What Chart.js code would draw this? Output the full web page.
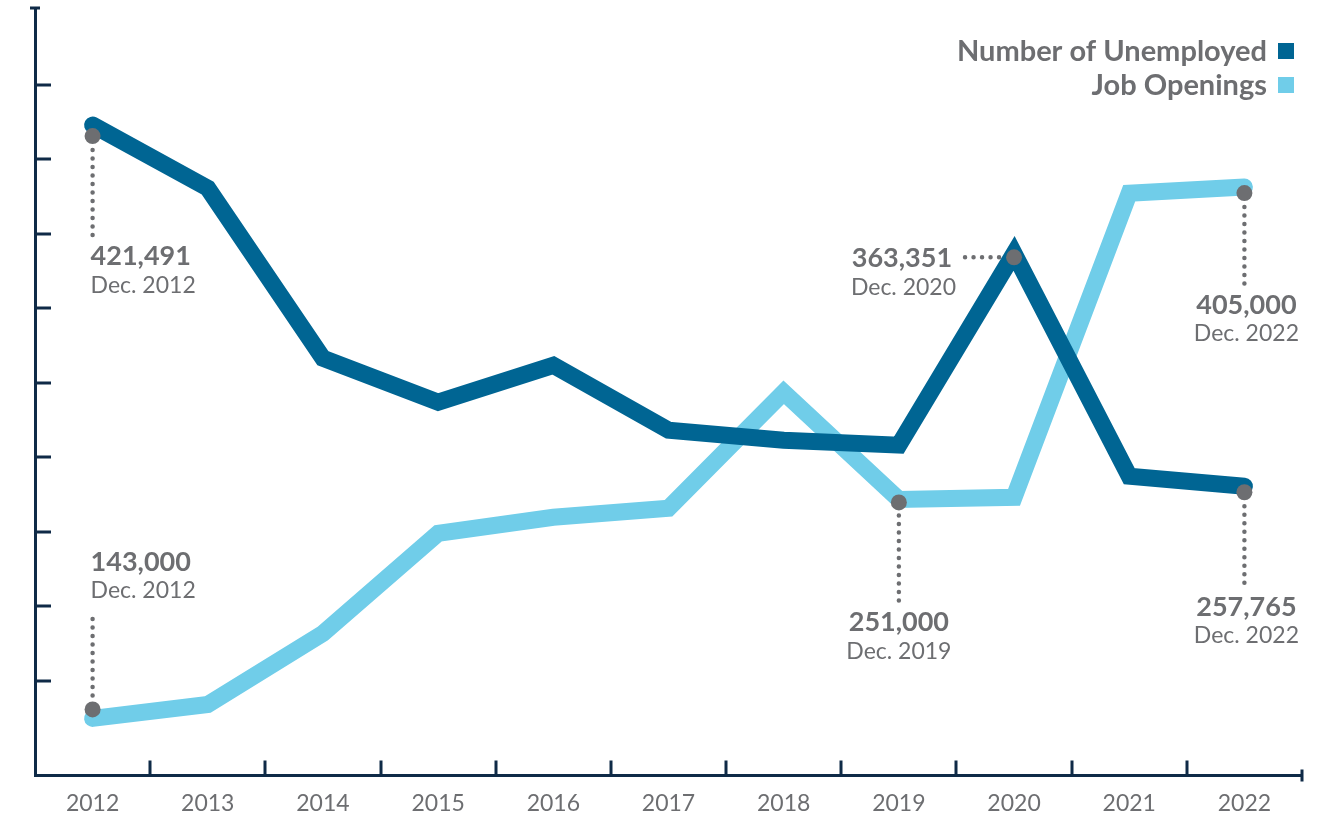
<!DOCTYPE html>
<html>
<head>
<meta charset="utf-8">
<script src="https://cdn.jsdelivr.net/npm/chart.js@4.4.1/dist/chart.umd.min.js"></script>
<style>
  html, body { margin: 0; padding: 0; background: #fff; }
  #wrap { width: 1333px; height: 833px; }
</style>
</head>
<body>
<div id="wrap"><canvas id="jobs"></canvas></div>
<script>
const years = ['2012', '2013', '2014', '2015', '2016', '2017', '2018', '2019', '2020', '2021', '2022'];
const unemployed = [421491, 392900, 315800, 295900, 312600, 283200, 278600, 276400, 363351, 262300, 257765];
const jobOpenings = [143000, 149900, 184900, 234300, 242200, 246600, 303800, 251000, 252000, 402000, 405000];
const seriesNames = ['Number of Unemployed', 'Job Openings'];
const yTickSteps = [1, 2, 3, 4, 5, 6, 7, 8, 9];

const GRAY = '#6d6e71';
const AXIS = '#0f2a47';
const FONT = 'Lato, "Open Sans", sans-serif';

// inner tick marks + axis end caps
const axisMarks = {
  id: 'axisMarks',
  beforeDatasetsDraw(chart) {
    const { ctx, chartArea: a, scales } = chart;
    ctx.save();
    ctx.strokeStyle = AXIS;
    ctx.lineWidth = 3;
    ctx.beginPath();
    for (let i = 1; i < years.length; i++) {
      const x = Math.round(scales.x.getPixelForValue(i - 0.5));
      ctx.moveTo(x, a.bottom);
      ctx.lineTo(x, a.bottom - 15);
    }
    yTickSteps.forEach(v => {
      const y = Math.round(scales.yTick.getPixelForValue(v));
      ctx.moveTo(a.left, y);
      ctx.lineTo(a.left + 16, y);
    });
    ctx.moveTo(a.left - 5, a.top);
    ctx.lineTo(a.left + 5, a.top);
    ctx.moveTo(a.right, a.bottom - 6);
    ctx.lineTo(a.right, a.bottom + 6);
    ctx.stroke();
    ctx.restore();
  }
};

// legend: text with colour box on the right
const rightLegend = {
  id: 'rightLegend',
  afterDraw(chart) {
    const { ctx, chartArea: a } = chart;
    ctx.save();
    ctx.font = 'bold 29px ' + FONT;
    ctx.textAlign = 'right';
    ctx.textBaseline = 'middle';
    chart.data.datasets.forEach((ds, i) => {
      const y = a.top + 43 + i * 34;
      ctx.fillStyle = GRAY;
      ctx.fillText(ds.label, a.right - 35, y + 1);
      ctx.fillStyle = ds.borderColor;
      ctx.fillRect(a.right - 24, y - 8, 16, 16);
    });
    ctx.restore();
  }
};

// value callouts: dot, dotted leader, value and date
const callouts = [
  { ds: 0, i: 0, dot: 11, lead: [25, 115], text: 131, gap: 30, align: 'left', dx: -2 },
  { ds: 1, i: 0, dot: -9, lead: [-23, -106], text: -156, gap: 28, align: 'left', dx: -2 },
  { ds: 1, i: 7, dot: 3, lead: [16, 106], text: 123, gap: 29, align: 'center', dx: 0 },
  { ds: 0, i: 8, dot: 4, side: 'left', lead: [-15, -55], text: -62, gap: 29, align: 'right', dx: 0 },
  { ds: 1, i: 10, dot: 6, lead: [20, 103], text: 118, gap: 29, align: 'center', dx: 2 },
  { ds: 0, i: 10, dot: 6, lead: [20, 105], text: 121, gap: 28, align: 'center', dx: 2 }
];

const calloutPlugin = {
  id: 'callouts',
  afterDatasetsDraw(chart) {
    const { ctx } = chart;
    ctx.save();
    callouts.forEach(c => {
      const pt = chart.getDatasetMeta(c.ds).data[c.i];
      const value = chart.data.datasets[c.ds].data[c.i];
      const px = pt.x, py = pt.y;
      const dy = py + c.dot;
      ctx.strokeStyle = GRAY;
      ctx.lineWidth = 4.5;
      ctx.lineCap = 'round';
      ctx.setLineDash([0, 8.5]);
      ctx.beginPath();
      let tx, ty;
      if (c.side === 'left') {
        ctx.moveTo(px + c.lead[0], dy);
        ctx.lineTo(px + c.lead[1], dy);
        tx = px + c.text;
        ty = dy + 1;
      } else {
        ctx.moveTo(px, py + c.lead[0]);
        ctx.lineTo(px, py + c.lead[1]);
        tx = px + c.dx;
        ty = py + c.text;
      }
      ctx.stroke();
      ctx.setLineDash([]);
      ctx.fillStyle = GRAY;
      ctx.beginPath();
      ctx.arc(px, dy, 8, 0, Math.PI * 2);
      ctx.fill();
      ctx.textAlign = c.align;
      ctx.textBaseline = 'middle';
      ctx.font = 'bold 27px ' + FONT;
      ctx.fillText(value.toLocaleString('en-US'), tx, ty);
      ctx.font = '23px ' + FONT;
      ctx.fillText('Dec. ' + years[c.i], c.side === 'left' ? tx + 4 : tx, ty + c.gap);
    });
    ctx.restore();
  }
};

new Chart(document.getElementById('jobs'), {
  type: 'line',
  data: {
    labels: years,
    datasets: [
      {
        label: seriesNames[0],
        data: unemployed,
        yAxisID: 'y',
        borderColor: '#006593',
        borderWidth: 17,
        borderCapStyle: 'round',
        borderJoinStyle: 'miter',
        pointRadius: 0,
        tension: 0
      },
      {
        label: seriesNames[1],
        data: jobOpenings,
        yAxisID: 'yJobs',
        borderColor: '#70cde9',
        borderWidth: 17,
        borderCapStyle: 'round',
        borderJoinStyle: 'miter',
        pointRadius: 0,
        tension: 0
      }
    ]
  },
  options: {
    responsive: true,
    maintainAspectRatio: false,
    animation: false,
    clip: false,
    layout: { padding: { left: 35, right: 31, top: 8, bottom: 2 } },
    plugins: {
      legend: { display: false },
      tooltip: { enabled: false }
    },
    scales: {
      x: {
        offset: true,
        grid: { display: true, drawOnChartArea: false, drawTicks: false },
        border: { display: true, color: AXIS, width: 3 },
        ticks: { color: GRAY, font: { family: FONT, size: 23 }, padding: 14 }
      },
      y: {
        position: 'left',
        min: 126700,
        max: 474550,
        grid: { display: true, drawOnChartArea: false, drawTicks: false },
        border: { display: true, color: AXIS, width: 3 },
        ticks: { display: false }
      },
      yJobs: {
        display: false,
        min: 114900,
        max: 493300
      },
      yTick: {
        display: false,
        min: -0.274,
        max: 10.035
      }
    }
  },
  plugins: [axisMarks, calloutPlugin, rightLegend]
});
</script>
</body>
</html>
